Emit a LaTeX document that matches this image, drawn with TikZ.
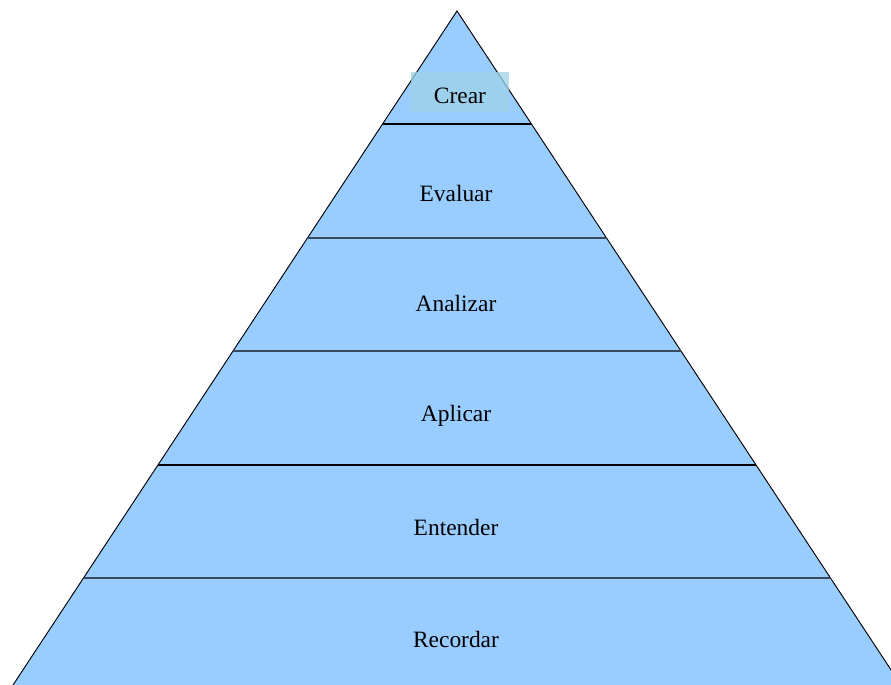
\documentclass[tikz,border=0pt]{standalone}
\usepackage{fontspec}
\setmainfont{Liberation Serif}
\usepackage{tikz}
\usetikzlibrary{calc}
\definecolor{pyramidblue}{HTML}{99CCFF}
\definecolor{tierslate}{HTML}{3A4A5E}
\definecolor{crearcyan}{HTML}{9ED2E6}
\tikzset{
  levelnode/.style={font=\fontsize{20}{24}\selectfont,inner sep=0pt,text=black},
  pyramidshape/.style={draw=black,line width=0.8pt,fill=pyramidblue,line join=miter},
  tierslateline/.style={line width=2pt,tierslate},
  tierblackline/.style={line width=1.8pt,black},
  crearbox/.style={rectangle,fill=crearcyan,fill opacity=0.75,draw=none,
    minimum width=2.94cm,minimum height=1.2cm,inner sep=0pt}
}

\begin{document}
\begin{tikzpicture}[x=0.03cm,y=-0.03cm]
  \useasboundingbox (0,0) rectangle (891,685);
  \clip (0,0) rectangle (891,685);

  \coordinate (apex) at (457,11);
  \coordinate (bl) at (11.7,687);
  \coordinate (br) at (902.3,687);
  \draw[pyramidshape] (apex)--(br)--(bl)--cycle;

  % tier borders
  \foreach \y/\s in {124/tierblackline,238/tierslateline,351/tierslateline,
                     465/tierblackline,578/tierslateline}{
    \pgfmathsetmacro\t{(\y-11)/676}
    \draw[\s] ($(apex)!\t!(bl)$) -- ($(apex)!\t!(br)$);
  }

  \node[crearbox] (crearbg) at (460,92) {};
  \node[levelnode] (crear) at (460,96) {Crear};
  \node[levelnode] (evaluar) at (456,193) {Evaluar};
  \node[levelnode] (analizar) at (456,303) {Analizar};
  \node[levelnode] (aplicar) at (456,416) {Aplicar};
  \node[levelnode] (entender) at (456,527) {Entender};
  \node[levelnode] (recordar) at (456,639) {Recordar};
\end{tikzpicture}
\end{document}
